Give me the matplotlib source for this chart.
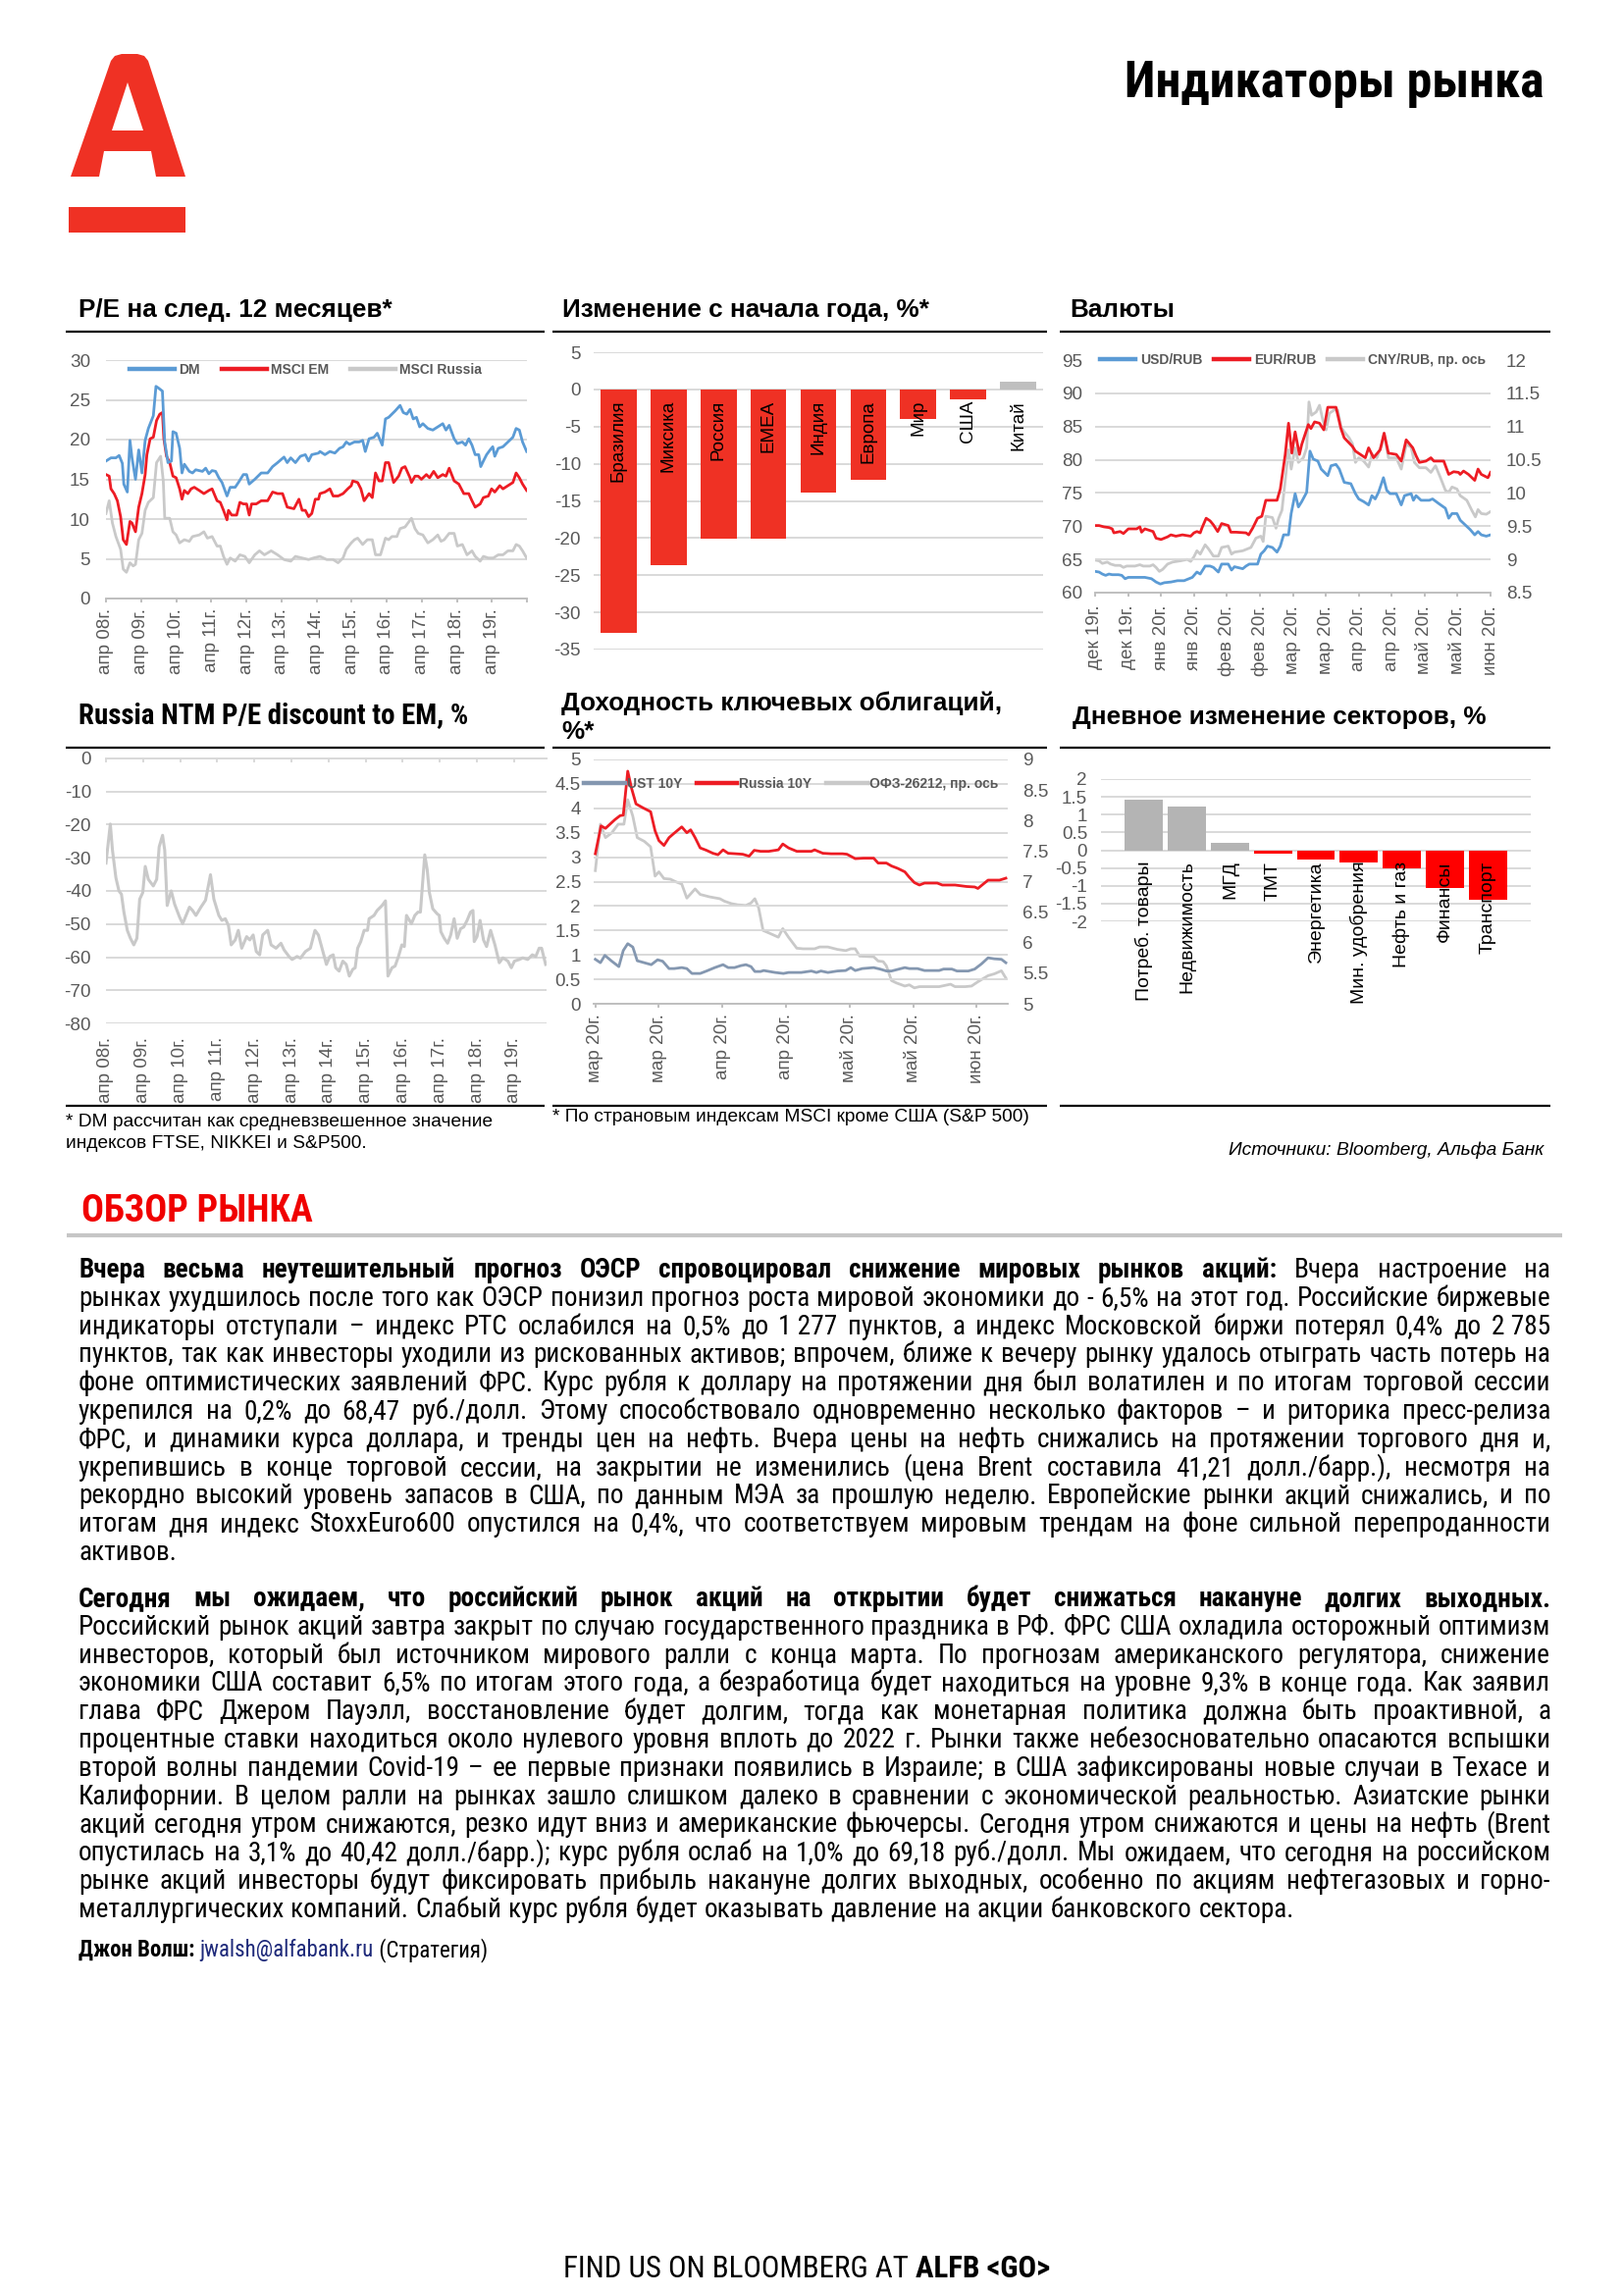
import os
import matplotlib
matplotlib.use('Agg')
import matplotlib.pyplot as plt
import matplotlib.font_manager as fm
from matplotlib.lines import Line2D
from matplotlib.path import Path
from matplotlib.patches import PathPatch, Rectangle
from matplotlib.ticker import FuncFormatter

plt.rcParams['font.family'] = ['Liberation Sans', 'DejaVu Sans']
plt.rcParams['axes.unicode_minus'] = False

# ---------------- DATA ----------------
pe_ticklabels = ['апр 08г.', 'апр 09г.', 'апр 10г.', 'апр 11г.', 'апр 12г.', 'апр 13г.',
                 'апр 14г.', 'апр 15г.', 'апр 16г.', 'апр 17г.', 'апр 18г.', 'апр 19г.']
# (months since Apr-2008, value)
pe_dm = [(0, 17.3), (1.7, 17.7), (3.4, 17.7), (4.5, 18.0), (5.6, 17.0), (6.1, 14.4), (7.3, 13.4),
         (8.2, 19.9), (8.9, 17.7), (10.1, 15.0), (11.2, 18.7), (12.3, 15.8), (13.4, 19.9), (14.5, 21.4),
         (16.2, 23.0), (17.1, 26.7), (17.9, 26.5), (19.3, 26.1), (20.1, 19.7), (21.2, 17.1), (22.4, 17.3),
         (22.9, 21.0), (24.0, 20.8), (25.2, 18.9), (26.0, 15.8), (26.8, 16.9), (28.5, 16.0), (29.6, 15.8),
         (30.7, 16.2), (33.0, 16.0), (34.1, 16.4), (35.2, 15.7), (36.3, 16.1), (37.5, 16.0), (38.6, 15.2),
         (39.7, 14.6), (41.4, 12.9), (42.5, 14.0), (44.2, 14.0), (45.3, 14.6), (47.0, 15.6), (48.1, 15.6),
         (49.0, 14.4), (50.9, 15.0), (53.1, 15.8), (55.3, 15.8), (57.0, 16.6), (58.7, 17.1), (60.9, 17.8),
         (62.0, 17.1), (63.2, 17.7), (64.8, 17.1), (66.5, 17.9), (68.2, 18.1), (69.3, 17.3), (70.4, 18.1),
         (72.7, 18.3), (73.2, 18.5), (74.9, 18.1), (76.6, 18.5), (78.3, 18.3), (79.9, 18.9), (81.1, 19.1),
         (82.2, 19.7), (83.3, 19.4), (85.0, 19.7), (86.6, 19.7), (87.8, 19.9), (88.7, 18.5), (90.0, 20.1),
         (91.7, 20.3), (92.8, 20.8), (94.5, 19.3), (95.6, 22.6), (96.7, 22.8), (98.9, 23.6), (100.6, 24.3),
         (101.7, 23.4), (102.9, 23.2), (104.0, 23.8), (105.1, 22.6), (106.2, 22.8), (107.3, 21.6),
         (108.4, 22.0), (110.1, 21.4), (111.8, 21.2), (113.5, 21.6), (115.2, 22.0), (116.3, 21.2),
         (117.4, 21.8), (119.1, 20.1), (120.2, 19.5), (121.9, 19.7), (123.0, 19.3), (124.1, 20.1),
         (125.2, 19.3), (126.3, 18.1), (127.5, 18.1), (128.2, 16.6), (129.1, 17.3), (130.2, 18.1),
         (131.4, 18.7), (132.3, 19.1), (133.0, 17.9), (134.2, 18.9), (135.8, 19.1), (137.5, 19.7),
         (139.2, 20.3), (140.3, 21.4), (141.4, 21.2), (142.5, 19.7), (143.9, 18.5)]
pe_em = [(0, 15.6), (1.1, 15.4), (1.7, 13.8), (2.8, 13.2), (3.9, 12.3), (5.0, 10.3), (5.9, 7.4), (7.0, 6.8),
         (8.2, 9.7), (8.9, 9.5), (10.1, 8.4), (11.2, 11.5), (12.3, 13.2), (13.4, 15.6), (14.0, 18.1),
         (15.1, 20.1), (16.2, 20.3), (17.3, 22.4), (18.4, 23.2), (19.3, 23.4), (19.8, 20.1), (20.7, 17.9),
         (21.8, 17.1), (22.9, 15.4), (24.0, 15.2), (25.2, 13.8), (26.0, 12.5), (26.8, 13.6), (28.0, 13.2),
         (29.1, 13.8), (30.2, 14.0), (31.9, 13.6), (33.5, 13.2), (35.2, 13.6), (36.3, 13.8), (38.0, 12.3),
         (39.1, 12.1), (40.2, 11.1), (41.4, 9.9), (41.9, 11.1), (43.0, 10.5), (44.7, 10.5), (45.8, 12.1),
         (47.0, 11.9), (48.1, 11.9), (49.0, 10.5), (49.8, 11.9), (51.4, 11.9), (53.1, 12.3), (55.3, 12.3),
         (57.0, 13.4), (58.7, 13.2), (60.4, 13.2), (62.0, 11.5), (64.3, 11.3), (66.0, 12.5), (67.1, 11.1),
         (68.2, 11.1), (69.3, 10.3), (70.4, 10.7), (71.6, 12.5), (72.7, 12.5), (73.2, 13.2), (74.9, 13.4),
         (76.6, 13.8), (77.7, 12.9), (79.4, 12.9), (81.1, 13.2), (82.7, 13.8), (83.9, 14.2), (84.4, 14.8),
         (86.1, 14.6), (87.2, 13.8), (88.3, 12.3), (90.0, 13.2), (91.1, 12.7), (92.2, 15.8), (93.4, 14.8),
         (94.5, 14.8), (95.6, 17.1), (96.7, 17.1), (98.4, 14.6), (100.1, 15.4), (101.2, 16.4), (102.3, 16.6),
         (104.0, 15.2), (104.5, 14.6), (105.7, 15.4), (106.8, 15.4), (107.9, 15.0), (109.6, 15.6),
         (110.7, 15.2), (112.1, 16.0), (113.5, 15.2), (115.2, 15.6), (116.3, 15.4), (117.4, 16.4),
         (119.1, 14.8), (120.7, 14.4), (122.4, 13.2), (124.1, 13.2), (125.2, 12.3), (126.3, 11.5),
         (128.0, 11.9), (129.1, 12.7), (130.8, 12.9), (131.9, 13.8), (133.0, 13.4), (134.7, 14.2),
         (135.8, 13.8), (137.5, 14.2), (139.2, 14.6), (140.3, 15.8), (141.4, 15.2), (142.5, 14.4),
         (143.9, 13.6)]
pe_ru = [(0, 10.7), (1.1, 12.3), (2.2, 9.5), (3.4, 7.8), (5.0, 6.2), (5.9, 3.7), (7.0, 3.3), (8.2, 4.5),
         (9.3, 4.1), (10.1, 4.3), (11.2, 7.4), (12.3, 8.2), (13.4, 11.1), (14.5, 12.1), (16.2, 12.7),
         (17.3, 17.1), (18.7, 17.9), (19.6, 14.8), (20.1, 10.1), (21.8, 10.1), (22.9, 8.4), (24.0, 8.0),
         (25.2, 7.0), (26.8, 7.4), (28.5, 7.2), (29.6, 7.8), (31.9, 8.0), (33.5, 8.4), (34.7, 7.6),
         (36.3, 7.8), (38.0, 6.6), (39.1, 6.6), (40.2, 5.3), (41.4, 4.3), (42.5, 5.1), (44.2, 4.7),
         (45.8, 5.5), (47.5, 5.3), (49.0, 4.5), (50.9, 5.5), (52.5, 6.0), (54.2, 5.5), (56.5, 6.0),
         (58.7, 5.5), (60.9, 4.9), (63.2, 4.7), (64.8, 5.3), (67.1, 5.1), (69.3, 4.9), (71.0, 5.1),
         (73.2, 5.3), (75.5, 4.9), (77.7, 4.9), (79.4, 4.5), (81.1, 5.1), (82.2, 6.2), (83.9, 7.0),
         (85.0, 7.4), (86.1, 7.6), (87.8, 6.8), (89.4, 7.4), (91.1, 7.4), (92.2, 5.5), (93.9, 5.5),
         (95.6, 7.6), (96.7, 7.4), (97.8, 7.8), (99.5, 7.8), (100.6, 8.8), (102.3, 9.0), (104.5, 10.1),
         (105.7, 8.8), (106.8, 8.2), (108.4, 8.0), (110.1, 7.0), (111.8, 7.4), (113.5, 8.0), (114.6, 7.2),
         (115.7, 7.4), (117.4, 8.2), (119.1, 8.2), (120.2, 6.6), (121.9, 6.8), (123.5, 5.5), (125.2, 6.0),
         (126.3, 5.3), (128.0, 4.7), (129.1, 5.3), (130.8, 5.1), (132.5, 5.1), (134.2, 5.5), (135.8, 5.5),
         (137.5, 6.0), (139.2, 6.0), (140.3, 6.8), (141.4, 6.6), (142.5, 6.0), (143.9, 5.1)]

ytd_names = ['Бразилия', 'Миксика', 'Россия', 'EMEA', 'Индия', 'Европа', 'Мир', 'США', 'Китай']
ytd_vals = [-32.7, -23.7, -20.1, -20.1, -13.9, -12.2, -4.0, -1.3, 1.0]

fx_ticklabels = ['дек 19г.', 'дек 19г.', 'янв 20г.', 'янв 20г.', 'фев 20г.', 'фев 20г.', 'мар 20г.',
                 'мар 20г.', 'апр 20г.', 'апр 20г.', 'май 20г.', 'май 20г.', 'июн 20г.']
# (trading-day index, value)
fx_usd = [(0, 63.2), (1.2, 63.1), (2.2, 62.8), (3.2, 62.6), (4.2, 62.8), (5.2, 62.7), (7.1, 62.7), (8.1, 62.6),
          (9.1, 62.1), (10.1, 62.3), (12.1, 62.3), (15.1, 62.3), (17.1, 62.1), (18.5, 61.6), (19.8, 61.3),
          (21.0, 61.5), (23.0, 61.6), (25.0, 61.8), (27.0, 61.8), (28.5, 62.1), (29.5, 62.3), (30.9, 63.1),
          (31.9, 62.8), (33.4, 64.0), (34.9, 64.0), (35.9, 63.8), (37.4, 63.1), (38.4, 64.3), (40.4, 64.3),
          (41.4, 63.4), (42.3, 63.9), (44.8, 63.6), (45.8, 64.0), (46.8, 64.3), (49.3, 64.3), (50.3, 65.8),
          (51.3, 66.3), (52.3, 67.0), (53.8, 66.8), (55.2, 66.1), (56.2, 67.0), (57.2, 68.7), (58.7, 68.7),
          (59.5, 71.9), (60.7, 74.9), (61.7, 72.9), (62.7, 73.7), (64.2, 75.1), (65.2, 81.3), (66.2, 80.1),
          (67.6, 79.8), (68.6, 78.6), (69.6, 78.1), (70.6, 77.6), (71.6, 79.1), (73.1, 79.3), (74.1, 78.6),
          (75.6, 76.6), (77.6, 76.4), (79.0, 74.9), (80.0, 74.1), (81.5, 73.7), (83.0, 73.2), (84.0, 74.6),
          (85.0, 74.1), (86.0, 75.1), (87.5, 77.3), (88.5, 75.4), (89.5, 74.9), (91.4, 74.9), (92.9, 73.2),
          (93.9, 74.6), (95.9, 74.9), (96.6, 73.9), (97.4, 74.6), (98.9, 73.9), (101.4, 73.9), (102.4, 74.1),
          (104.3, 73.4), (106.3, 72.7), (107.3, 71.2), (108.3, 71.9), (109.8, 71.9), (110.8, 70.9),
          (112.3, 70.2), (113.8, 69.5), (115.2, 68.7), (116.2, 69.2), (117.2, 68.7), (118.7, 68.5),
          (120.0, 68.7)]
fx_eur = [(0, 70.1), (1.2, 70.1), (2.7, 69.9), (4.2, 69.8), (5.2, 69.6), (5.7, 69.0), (7.6, 69.2), (8.6, 68.9),
          (10.1, 69.6), (12.6, 69.6), (13.6, 69.9), (14.1, 69.1), (15.1, 69.6), (17.6, 69.2), (18.5, 68.2),
          (20.0, 68.0), (22.0, 68.4), (23.0, 68.7), (24.5, 68.5), (26.5, 68.7), (29.0, 68.5), (30.0, 69.0),
          (30.9, 69.2), (31.9, 69.0), (32.4, 69.7), (33.7, 71.2), (34.9, 70.8), (35.9, 70.2), (37.2, 69.2),
          (38.4, 70.4), (40.4, 70.1), (41.2, 69.1), (42.8, 69.1), (45.8, 69.0), (46.6, 68.7), (47.8, 69.7),
          (49.3, 71.2), (50.6, 71.5), (51.8, 73.9), (55.2, 73.9), (56.2, 75.6), (57.7, 80.8), (58.7, 85.5),
          (59.7, 81.0), (60.7, 84.2), (62.0, 80.8), (62.7, 82.3), (63.7, 83.8), (64.7, 85.3), (65.5, 84.7),
          (66.6, 85.7), (68.1, 85.5), (69.4, 84.5), (70.6, 87.9), (73.1, 87.9), (74.6, 84.7), (75.6, 83.3),
          (78.1, 82.0), (79.0, 81.3), (80.5, 80.8), (82.0, 80.3), (83.0, 81.8), (84.5, 80.3), (86.5, 81.5),
          (87.7, 84.0), (89.0, 81.0), (91.4, 80.8), (92.9, 79.8), (94.4, 83.0), (96.4, 81.8), (97.4, 80.6),
          (98.4, 79.6), (100.4, 79.8), (101.9, 80.3), (102.8, 79.8), (105.8, 79.8), (107.3, 77.8),
          (108.8, 78.2), (110.3, 78.1), (110.8, 77.8), (111.8, 78.3), (113.3, 77.8), (115.2, 76.9),
          (116.2, 78.6), (117.2, 77.8), (119.2, 77.3), (120.0, 78.1)]
fx_cny = [(0, 8.99), (1.2, 8.98), (2.2, 8.94), (3.7, 8.96), (4.7, 8.93), (6.1, 8.91), (7.6, 8.91), (8.6, 8.88),
          (9.6, 8.90), (12.1, 8.90), (13.6, 8.92), (14.6, 8.90), (16.6, 8.90), (17.6, 8.92), (18.5, 8.88),
          (19.5, 8.82), (20.5, 8.85), (22.0, 8.93), (23.5, 8.96), (26.0, 8.98), (28.0, 9.00), (29.0, 8.97),
          (30.0, 9.04), (30.9, 9.13), (31.9, 9.08), (33.4, 9.22), (34.4, 9.16), (35.9, 9.05), (37.4, 9.05),
          (38.4, 9.18), (40.4, 9.20), (41.4, 9.08), (42.3, 9.11), (44.8, 9.13), (45.8, 9.15), (47.3, 9.18),
          (48.8, 9.32), (50.3, 9.35), (51.0, 9.27), (51.8, 9.65), (53.8, 9.63), (54.9, 9.47), (55.7, 9.62),
          (56.7, 9.74), (57.7, 10.19), (58.7, 10.65), (59.5, 10.36), (60.7, 10.68), (61.7, 10.46),
          (63.2, 10.53), (64.2, 10.68), (64.9, 11.37), (65.7, 11.17), (67.1, 11.22), (68.1, 11.32),
          (69.1, 11.10), (70.1, 10.95), (71.1, 11.20), (72.6, 11.25), (73.6, 11.25), (74.6, 11.00),
          (75.6, 10.92), (77.1, 10.83), (78.1, 10.74), (79.0, 10.46), (80.0, 10.53), (81.5, 10.48),
          (83.0, 10.39), (84.0, 10.58), (85.5, 10.53), (87.0, 10.73), (87.7, 10.90), (89.0, 10.53),
          (91.4, 10.53), (92.9, 10.36), (94.4, 10.73), (95.9, 10.69), (96.9, 10.46), (98.4, 10.38),
          (100.4, 10.38), (101.9, 10.31), (103.3, 10.41), (104.8, 10.23), (106.3, 10.04), (107.3, 10.01),
          (108.3, 10.09), (109.8, 10.06), (110.8, 9.96), (112.8, 9.89), (114.3, 9.74), (115.4, 9.64),
          (116.2, 9.75), (117.2, 9.69), (118.7, 9.68), (120.0, 9.72)]

disc = [(0, -31.6), (1.4, -19.8), (2.1, -27.7), (3.2, -36.0), (4.2, -40.0), (5.0, -41.0), (5.8, -46.4),
        (6.9, -51.9), (7.9, -54.3), (9.0, -56.3), (10.0, -54.3), (10.9, -42.5), (11.9, -40.5), (12.7, -32.6),
        (13.7, -36.5), (15.3, -38.5), (16.4, -36.5), (17.2, -26.7), (18.3, -23.2), (19.0, -27.7),
        (19.8, -44.4), (21.1, -40.0), (22.2, -44.0), (23.8, -47.9), (24.8, -49.9), (25.9, -47.4),
        (27.0, -44.9), (28.0, -45.9), (29.1, -47.4), (30.7, -44.9), (32.2, -42.8), (33.8, -35.1),
        (34.9, -42.5), (36.5, -47.4), (37.5, -48.9), (38.6, -48.4), (39.6, -50.4), (40.5, -56.3),
        (41.8, -54.8), (42.8, -51.9), (43.9, -57.3), (45.5, -53.8), (46.5, -54.8), (47.6, -53.3),
        (48.6, -58.3), (49.7, -59.3), (50.7, -53.3), (52.3, -51.9), (53.4, -56.3), (55.0, -57.3),
        (56.6, -55.8), (57.6, -57.8), (59.2, -59.8), (60.2, -60.7), (61.8, -59.8), (62.9, -60.3),
        (64.5, -58.3), (66.1, -57.3), (67.6, -51.9), (68.7, -53.3), (70.3, -58.8), (71.3, -62.2),
        (72.4, -59.8), (73.5, -59.3), (74.3, -63.2), (75.4, -64.2), (76.6, -61.2), (77.7, -62.2),
        (78.7, -65.7), (79.8, -63.7), (80.6, -63.2), (81.4, -57.3), (82.4, -55.3), (83.5, -51.9),
        (84.6, -51.9), (85.1, -48.4), (86.7, -47.4), (87.7, -45.9), (89.3, -44.4), (90.4, -43.0),
        (91.2, -65.7), (92.5, -63.2), (93.5, -62.7), (94.6, -59.8), (95.7, -56.3), (96.5, -56.8),
        (97.2, -47.4), (98.8, -49.9), (99.9, -47.4), (100.9, -46.4), (101.7, -46.4), (103.1, -29.1),
        (103.9, -33.6), (104.6, -40.5), (105.7, -45.4), (107.1, -46.9), (107.8, -47.4), (108.3, -52.3),
        (109.4, -54.3), (110.5, -55.8), (111.5, -53.3), (112.6, -48.4), (113.6, -54.3), (114.7, -51.4),
        (115.7, -50.9), (116.8, -48.9), (117.9, -46.4), (118.7, -45.9), (119.1, -55.3), (120.0, -53.8),
        (121.0, -48.9), (122.1, -54.8), (123.1, -56.8), (124.4, -51.9), (125.8, -56.3), (127.2, -61.7),
        (128.4, -60.2), (130.0, -61.2), (131.1, -63.2), (132.1, -61.2), (133.7, -60.7), (134.8, -60.2),
        (136.4, -60.7), (137.9, -59.3), (139.0, -59.8), (140.1, -57.3), (140.9, -57.3), (142.2, -62.2)]

bond_ticklabels = ['мар 20г.', 'мар 20г.', 'апр 20г.', 'апр 20г.', 'май 20г.', 'май 20г.', 'июн 20г.']
bond_ust = [(0, 0.91), (0.8, 0.84), (1.5, 0.99), (2.6, 0.87), (3.7, 0.76), (4.4, 1.09), (5.1, 1.23), (5.9, 1.16),
            (6.6, 0.88), (7.7, 0.84), (8.8, 0.80), (9.8, 0.90), (10.6, 0.87), (11.6, 0.72), (12.4, 0.72),
            (13.6, 0.74), (14.4, 0.72), (15.2, 0.62), (16.5, 0.62), (17.5, 0.67), (18.8, 0.74), (20.1, 0.80),
            (20.9, 0.74), (21.9, 0.74), (22.9, 0.78), (23.7, 0.80), (24.5, 0.76), (25.1, 0.66), (26.0, 0.66),
            (26.5, 0.68), (28.3, 0.64), (29.6, 0.62), (30.4, 0.64), (32.4, 0.64), (34.0, 0.67), (34.8, 0.64),
            (35.5, 0.67), (36.6, 0.64), (38.1, 0.67), (39.4, 0.68), (40.2, 0.74), (40.9, 0.68), (42.0, 0.72),
            (43.8, 0.74), (44.8, 0.71), (45.8, 0.67), (46.6, 0.67), (48.7, 0.74), (49.4, 0.72), (50.7, 0.72),
            (51.8, 0.68), (54.1, 0.68), (54.8, 0.71), (56.1, 0.71), (56.9, 0.67), (58.7, 0.67), (59.7, 0.71),
            (60.8, 0.82), (61.8, 0.94), (62.8, 0.92), (63.9, 0.91), (64.6, 0.84)]
bond_ru = [(0, 3.07), (0.9, 3.64), (1.6, 3.59), (3.1, 3.77), (3.9, 3.85), (4.4, 3.86), (5.1, 4.76), (5.7, 4.41),
           (6.4, 4.09), (7.5, 4.01), (8.7, 3.93), (9.4, 3.54), (10.0, 3.34), (10.8, 3.24), (11.6, 3.40),
           (12.4, 3.49), (13.6, 3.62), (14.4, 3.50), (15.0, 3.56), (15.7, 3.40), (16.5, 3.19), (17.5, 3.14),
           (18.5, 3.08), (19.3, 3.05), (20.1, 3.15), (20.9, 3.08), (22.1, 3.07), (23.2, 3.06), (24.2, 3.02),
           (25.0, 3.14), (26.0, 3.12), (27.3, 3.12), (28.8, 3.15), (29.5, 3.27), (30.4, 3.19), (31.7, 3.12),
           (33.0, 3.12), (34.0, 3.12), (34.5, 3.15), (35.8, 3.08), (37.1, 3.07), (38.9, 3.07), (39.6, 3.06),
           (40.9, 2.97), (42.2, 2.98), (43.8, 2.98), (44.5, 2.88), (45.8, 2.88), (46.6, 2.82), (47.6, 2.77),
           (48.7, 2.70), (49.4, 2.59), (50.2, 2.48), (51.0, 2.43), (51.8, 2.47), (53.8, 2.47), (54.6, 2.43),
           (56.6, 2.43), (58.4, 2.40), (59.7, 2.39), (60.2, 2.36), (61.8, 2.53), (63.6, 2.53), (64.6, 2.57)]
bond_ofz = [(0, 7.18), (0.8, 7.94), (1.6, 7.72), (2.6, 7.80), (3.6, 7.94), (4.5, 7.94), (5.1, 8.34), (5.9, 8.07),
            (6.6, 7.72), (7.7, 7.66), (8.7, 7.57), (9.4, 7.09), (10.0, 7.16), (10.8, 7.05), (11.8, 7.04),
            (12.6, 7.00), (13.6, 6.96), (14.4, 6.73), (15.7, 6.88), (16.5, 6.79), (18.0, 6.75), (19.6, 6.72),
            (20.3, 6.68), (21.4, 6.64), (22.4, 6.62), (23.7, 6.61), (24.5, 6.65), (25.1, 6.72), (25.7, 6.57),
            (26.4, 6.20), (27.3, 6.16), (28.8, 6.09), (29.5, 6.23), (30.4, 6.09), (31.7, 5.91), (32.7, 5.90),
            (34.5, 5.90), (35.3, 5.93), (36.6, 5.93), (38.1, 5.89), (39.4, 5.87), (40.2, 5.90), (40.9, 5.90),
            (41.6, 5.78), (43.8, 5.77), (44.5, 5.70), (45.3, 5.69), (45.8, 5.62), (46.6, 5.38), (47.4, 5.34),
            (48.7, 5.29), (49.4, 5.31), (50.2, 5.26), (51.0, 5.28), (52.0, 5.28), (54.1, 5.28), (55.9, 5.32),
            (56.6, 5.28), (58.2, 5.28), (59.2, 5.29), (60.2, 5.36), (61.8, 5.46), (62.8, 5.49), (63.9, 5.54),
            (64.6, 5.42)]

sector_names = ['Потреб. товары', 'Недвижимость', 'МГД', 'ТМТ', 'Энергетика', 'Мин. удобрения',
                'Нефть и газ', 'Финансы', 'Транспорт']
sector_vals = [1.43, 1.24, 0.20, -0.11, -0.25, -0.34, -0.52, -1.07, -1.39]

para1_lines = [
    "Вчера весьма неутешительный прогноз ОЭСР спровоцировал снижение мировых рынков акций: Вчера настроение на",
    "рынках ухудшилось после того как ОЭСР понизил прогноз роста мировой экономики до - 6,5% на этот год. Российские биржевые",
    "индикаторы отступали – индекс РТС ослабился на 0,5% до 1\u00a0277 пунктов, а индекс Московской биржи потерял 0,4% до 2\u00a0785",
    "пунктов, так как инвесторы уходили из рискованных активов; впрочем, ближе к вечеру рынку удалось отыграть часть потерь на",
    "фоне оптимистических заявлений ФРС. Курс рубля к доллару на протяжении дня был волатилен и по итогам торговой сессии",
    "укрепился на 0,2% до 68,47 руб./долл. Этому способствовало одновременно несколько факторов – и риторика пресс-релиза",
    "ФРС, и динамики курса доллара, и тренды цен на нефть. Вчера цены на нефть снижались на протяжении торгового дня и,",
    "укрепившись в конце торговой сессии, на закрытии не изменились (цена Brent составила 41,21 долл./барр.), несмотря на",
    "рекордно высокий уровень запасов в США, по данным МЭА за прошлую неделю. Европейские рынки акций снижались, и по",
    "итогам дня индекс StoxxEuro600 опустился на 0,4%, что соответствуем мировым трендам на фоне сильной перепроданности",
    "активов.",
]
para1_bold_words = 10
para2_lines = [
    "Сегодня мы ожидаем, что российский рынок акций на открытии будет снижаться накануне долгих выходных.",
    "Российский рынок акций завтра закрыт по случаю государственного праздника в РФ. ФРС США охладила осторожный оптимизм",
    "инвесторов, который был источником мирового ралли с конца марта. По прогнозам американского регулятора, снижение",
    "экономики США составит 6,5% по итогам этого года, а безработица будет находиться на уровне 9,3% в конце года. Как заявил",
    "глава ФРС Джером Пауэлл, восстановление будет долгим, тогда как монетарная политика должна быть проактивной, а",
    "процентные ставки находиться около нулевого уровня вплоть до 2022 г. Рынки также небезосновательно опасаются вспышки",
    "второй волны пандемии Covid-19 – ее первые признаки появились в Израиле; в США зафиксированы новые случаи в Техасе и",
    "Калифорнии. В целом ралли на рынках зашло слишком далеко в сравнении с экономической реальностью. Азиатские рынки",
    "акций сегодня утром снижаются, резко идут вниз и американские фьючерсы. Сегодня утром снижаются и цены на нефть (Brent",
    "опустилась на 3,1% до 40,42 долл./барр.); курс рубля ослаб на 1,0% до 69,18 руб./долл. Мы ожидаем, что сегодня на российском",
    "рынке акций инвесторы будут фиксировать прибыль накануне долгих выходных, особенно по акциям нефтегазовых и горно-",
    "металлургических компаний. Слабый курс рубля будет оказывать давление на акции банковского сектора.",
]
para2_bold_lines = 1

# ---------------- FONTS ----------------


def _wnum(f):
    w = f.weight
    if isinstance(w, str):
        w = fm.weight_dict.get(w, 400)
    return w


def find_condensed():
    prefs = ['liberationsansnarrow', 'arialnarrow', 'robotocondensed', 'notosans-condensed',
             'dejavusanscondensed', 'opensanscondensed', 'opensans_condensed', 'opensans-condensed']
    for key in prefs:
        cands = []
        for f in fm.fontManager.ttflist:
            b = os.path.basename(f.fname).lower().replace(' ', '')
            if key in b and 'italic' not in b and 'oblique' not in b and f.style == 'normal':
                cands.append(f)
        if cands:
            reg = min(cands, key=lambda f: abs(_wnum(f) - 400))
            bold = min(cands, key=lambda f: abs(_wnum(f) - 700))
            return reg.fname, bold.fname
    return None


COND = find_condensed()


def FN(size, bold=False):
    if COND:
        return fm.FontProperties(fname=COND[1] if bold else COND[0], size=size)
    return fm.FontProperties(family=['Liberation Sans', 'DejaVu Sans'], weight='bold' if bold else 'normal',
                             size=size)


# ---------------- STYLE ----------------
W, H, DPI = 1655, 2340, 200
C_BLUE, C_RED, C_GRAY, C_UST = '#5b9bd5', '#ed1c24', '#c9c9c9', '#8497b0'
C_TICK, C_GRID, C_AXIS = '#595959', '#d9d9d9', '#bfbfbf'
C_BAR_RED, C_BAR_GRAY = '#ef3124', '#bfbfbf'
C_SEC_RED, C_SEC_GRAY = '#ff0000', '#b4b4b4'
FS_TICK = 6.8

fig = plt.figure(figsize=(W / DPI, H / DPI), dpi=DPI, facecolor='white')
bg = fig.add_axes([0, 0, 1, 1])
bg.set_xlim(0, W)
bg.set_ylim(H, 0)
bg.axis('off')
renderer = fig.canvas.get_renderer()


def measure(s, fp):
    t = bg.text(0, 0, s, fontproperties=fp)
    w = t.get_window_extent(renderer).width
    t.remove()
    return w


def fit_size(s, size, bold, target, cap=1.2):
    w = measure(s, FN(size, bold))
    return size * min(cap, target / w)


def place(x0, x1, ytop, ybot):
    return fig.add_axes([x0 / W, 1 - ybot / H, (x1 - x0) / W, (ybot - ytop) / H])


def base_style(ax, ypad=5):
    ax.set_facecolor('none')
    for s in ax.spines.values():
        s.set_visible(False)
    ax.yaxis.grid(True, color=C_GRID, lw=0.7)
    ax.set_axisbelow(True)
    ax.tick_params(axis='y', length=0, labelsize=FS_TICK, labelcolor=C_TICK, pad=ypad)
    ax.tick_params(axis='x', labelsize=FS_TICK, labelcolor=C_TICK, color=C_AXIS, width=0.7)
    ax.yaxis.set_major_formatter(FuncFormatter(lambda v, p: '%g' % v))


def hline(x0, x1, y, lw=0.8, color='black'):
    bg.plot([x0, x1], [y, y], color=color, lw=lw, solid_capstyle='butt')


def legend_at(ax, items, x, y, hl, tp, cs, fs=5.0):
    handles = [Line2D([], [], color=c, lw=1.6) for c, _ in items]
    labels = [l for _, l in items]
    leg = ax.legend(handles, labels, loc='center left', bbox_to_anchor=(x, y), bbox_transform=bg.transData,
                    ncol=len(items), frameon=False, borderpad=0, borderaxespad=0, handlelength=hl,
                    handletextpad=tp, columnspacing=cs, prop={'size': fs, 'weight': 'bold'})
    for t in leg.get_texts():
        t.set_color(C_TICK)
    return leg


def unzip(pairs):
    return [p[0] for p in pairs], [p[1] for p in pairs]


# ---------------- HEADER ----------------
logo = Path([(72, 180), (113, 62), (117, 57), (124, 55), (140, 55), (147, 57), (151, 62), (189, 180),
             (159, 180), (154, 154), (106, 154), (101, 180), (72, 180),
             (130, 84), (114, 133), (146, 133), (130, 84)],
            [Path.MOVETO] + [Path.LINETO] * 11 + [Path.CLOSEPOLY] +
            [Path.MOVETO, Path.LINETO, Path.LINETO, Path.CLOSEPOLY])
bg.add_patch(PathPatch(logo, facecolor='#ef3124', edgecolor='none'))
bg.add_patch(Rectangle((70, 211), 119, 26, facecolor='#ef3124', edgecolor='none'))
title_txt = 'Индикаторы рынка'
bg.text(1574, 99, title_txt, ha='right', va='baseline', fontproperties=FN(fit_size(title_txt, 18, True, 428), True))

# ---------------- CHART TITLES / RULES ----------------
TT = dict(fontsize=9.4, fontweight='bold', va='baseline', ha='left')
bg.text(80, 323, 'P/E на след. 12 месяцев*', **TT)
bg.text(573, 323, 'Изменение с начала года, %*', **TT)
bg.text(1090, 323, 'Валюты', **TT)
t4 = 'Russia NTM P/E discount to EM, %'
bg.text(80, 737, t4, va='baseline', fontproperties=FN(fit_size(t4, 9.5, True, 398), True))
bg.text(572, 724, 'Доходность ключевых облигаций,', **TT)
bg.text(572, 753, '%*', **TT)
bg.text(1093, 738, 'Дневное изменение секторов, %', **TT)
for (a, b) in [(67, 555), (563, 1067), (1080, 1580)]:
    hline(a, b, 338)
    hline(a, b, 762)
    hline(a, b, 1127)

FT = dict(fontsize=6.9, va='baseline', ha='left')
bg.text(67, 1148, '* DM рассчитан как средневзвешенное значение', **FT)
bg.text(67, 1170, 'индексов FTSE, NIKKEI и S&P500.', **FT)
bg.text(563, 1143, '* По страновым индексам MSCI кроме США (S&P 500)', **FT)
bg.text(1573, 1177, 'Источники: Bloomberg, Альфа Банк', fontsize=6.9, va='baseline', ha='right', style='italic')

# ---------------- PANEL 1: P/E ----------------
ax1 = place(108, 537, 367, 610)
base_style(ax1, ypad=5.8)
for pairs, c in [(pe_ru, C_GRAY), (pe_em, C_RED), (pe_dm, C_BLUE)]:
    xs, ys = unzip(pairs)
    ax1.plot(xs, ys, color=c, lw=1.0)
ax1.set_xlim(0, 144)
ax1.set_ylim(0, 30)
ax1.set_yticks(range(0, 31, 5))
ax1.set_xticks(range(0, 145, 12))
ax1.set_xticklabels(pe_ticklabels + [''], rotation=90)
ax1.spines['bottom'].set_visible(True)
ax1.spines['bottom'].set_color(C_AXIS)
ax1.spines['bottom'].set_linewidth(0.7)
ax1.tick_params(axis='x', length=1.4, pad=2.2)
legend_at(ax1, [(C_BLUE, 'DM'), (C_RED, 'MSCI EM'), (C_GRAY, 'MSCI Russia')], 132, 377, 3.3, 0.3, 1.6)

# ---------------- PANEL 2: YTD ----------------
ax2 = place(605, 1063, 359, 662)
base_style(ax2, ypad=4.7)
xpos = list(range(len(ytd_vals)))
ax2.bar(xpos, ytd_vals, width=0.72, color=[C_BAR_RED if v < 0 else C_BAR_GRAY for v in ytd_vals], zorder=2)
ax2.set_xlim(-0.5, len(ytd_vals) - 0.5)
ax2.set_ylim(-35, 5)
ax2.set_yticks(range(-35, 6, 5))
ax2.set_xticks([])
for i, name in enumerate(ytd_names):
    ax2.annotate(name, (i, 0), xytext=(0, -4), textcoords='offset points', rotation=90, ha='center',
                 va='top', fontsize=6.8, color='black', zorder=3)

# ---------------- PANEL 3: FX ----------------
ax3 = place(1116, 1519, 367, 604)
base_style(ax3, ypad=4.7)
ax3r = ax3.twinx()
for s in ax3r.spines.values():
    s.set_visible(False)
xs, ys = unzip(fx_cny)
ax3r.plot(xs, ys, color=C_GRAY, lw=1.0)
xs, ys = unzip(fx_usd)
ax3.plot(xs, ys, color=C_BLUE, lw=1.0)
xs, ys = unzip(fx_eur)
ax3.plot(xs, ys, color=C_RED, lw=1.0)
ax3.set_zorder(ax3r.get_zorder() + 1)
ax3.set_xlim(0, 120)
ax3.set_ylim(60, 95)
ax3.set_yticks(range(60, 96, 5))
ax3r.set_ylim(8.5, 12)
ax3r.set_yticks([8.5, 9, 9.5, 10, 10.5, 11, 11.5, 12])
ax3r.yaxis.set_major_formatter(FuncFormatter(lambda v, p: '%g' % v))
ax3r.tick_params(axis='y', length=0, labelsize=FS_TICK, labelcolor=C_TICK, pad=5.8)
ax3.set_xticks(range(0, 121, 10))
ax3.set_xticklabels(fx_ticklabels, rotation=90)
ax3.spines['bottom'].set_visible(True)
ax3.spines['bottom'].set_color(C_AXIS)
ax3.spines['bottom'].set_linewidth(0.7)
ax3.tick_params(axis='x', length=1.4, pad=3.2)
ax3.yaxis.get_gridlines()[-1].set_visible(False)
legend_at(ax3, [(C_BLUE, 'USD/RUB'), (C_RED, 'EUR/RUB'), (C_GRAY, 'CNY/RUB, пр. ось')], 1121, 367, 2.6,
          0.35, 0.85)

# ---------------- PANEL 4: Russia discount ----------------
ax4 = place(108, 557, 773, 1043)
base_style(ax4, ypad=5.4)
xs, ys = unzip(disc)
ax4.plot(xs, ys, color=C_GRAY, lw=1.1)
ax4.set_xlim(0, 142.5)
ax4.set_ylim(-80, 0)
ax4.set_yticks(range(-80, 1, 10))
ax4.set_xticks(range(0, 133, 12))
ax4.set_xticklabels(pe_ticklabels, rotation=90)
ax4.spines['top'].set_visible(True)
ax4.spines['top'].set_color(C_GRID)
ax4.spines['top'].set_linewidth(0.7)
ax4.tick_params(axis='x', bottom=False, top=True, labelbottom=True, labeltop=False, direction='in',
                length=1.6, pad=5, color=C_GRID)

# ---------------- PANEL 5: Bonds ----------------
ax5 = place(605, 1027, 774, 1023)
base_style(ax5, ypad=4.7)
ax5r = ax5.twinx()
for s in ax5r.spines.values():
    s.set_visible(False)
xs, ys = unzip(bond_ofz)
ax5r.plot(xs, ys, color=C_GRAY, lw=1.0)
xs, ys = unzip(bond_ust)
ax5.plot(xs, ys, color=C_UST, lw=1.0)
xs, ys = unzip(bond_ru)
ax5.plot(xs, ys, color=C_RED, lw=1.0)
ax5.set_zorder(ax5r.get_zorder() + 1)
ax5.set_xlim(-0.26, 64.9)
ax5.set_ylim(0, 5)
ax5.set_yticks([0, 0.5, 1, 1.5, 2, 2.5, 3, 3.5, 4, 4.5, 5])
ax5r.set_ylim(5, 9)
ax5r.set_yticks([5, 5.5, 6, 6.5, 7, 7.5, 8, 8.5, 9])
ax5r.yaxis.set_major_formatter(FuncFormatter(lambda v, p: '%g' % v))
ax5r.tick_params(axis='y', length=0, labelsize=FS_TICK, labelcolor=C_TICK, pad=5.4)
ax5.set_xticks(range(0, 61, 10))
ax5.set_xticklabels(bond_ticklabels, rotation=90)
ax5.spines['bottom'].set_visible(True)
ax5.spines['bottom'].set_color(C_AXIS)
ax5.spines['bottom'].set_linewidth(0.7)
ax5.tick_params(axis='x', length=1.4, pad=2.2)
legend_at(ax5, [(C_UST, 'UST 10Y'), (C_RED, 'Russia 10Y'), (C_GRAY, 'ОФЗ-26212, пр. ось')], 595, 799, 3.0,
          0.15, 1.05)

# ---------------- PANEL 6: Sectors ----------------
ax6 = place(1122, 1560, 794, 939)
base_style(ax6, ypad=5)
spos = list(range(len(sector_vals)))
ax6.bar(spos, sector_vals, width=0.89, color=[C_SEC_RED if v < 0 else C_SEC_GRAY for v in sector_vals],
        zorder=2)
ax6.set_xlim(-1.0, 9.0)
ax6.set_ylim(-2, 2)
ax6.set_yticks([-2, -1.5, -1, -0.5, 0, 0.5, 1, 1.5, 2])
ax6.set_xticks([])
for i, name in enumerate(sector_names):
    ax6.annotate(name, (i, 0), xytext=(0, -4), textcoords='offset points', rotation=90, ha='center',
                 va='top', fontsize=7, color='black', zorder=3)

# ---------------- TEXT BODY ----------------
X0, X1 = 80, 1580
BODY_FS = 9.0
LINE_H = 28.8


def line_words(line, nbold):
    ws = line.split(' ')
    return [(w, i < nbold) for i, w in enumerate(ws)]


all_lines = []
for i, ln in enumerate(para1_lines):
    all_lines.append((line_words(ln, para1_bold_words if i == 0 else 0), i < len(para1_lines) - 1))
for i, ln in enumerate(para2_lines):
    all_lines.append((line_words(ln, 10 ** 6 if i < para2_bold_lines else 0), i < len(para2_lines) - 1))

# size the face so that the tightest justified line is set with normal word spaces (as in the reference)
fpr0, fpb0 = FN(BODY_FS), FN(BODY_FS, True)
ratios = []
for words, just in all_lines:
    if not just:
        continue
    nat = sum(measure(w, fpb0 if b else fpr0) for w, b in words) + 0.24 * BODY_FS * DPI / 72 * (len(words) - 1)
    ratios.append((X1 - X0) / nat)
scale = max(0.7, min(1.2, min(ratios)))
fs = BODY_FS * scale
FPR, FPB = FN(fs), FN(fs, True)
space = 0.25 * fs * DPI / 72


def draw_line(words, y, justify):
    objs, widths = [], []
    for w, b in words:
        t = bg.text(0, y, w, fontproperties=FPB if b else FPR, va='baseline', ha='left', color='black')
        objs.append(t)
        widths.append(t.get_window_extent(renderer).width)
    gap = (X1 - X0 - sum(widths)) / (len(objs) - 1) if (justify and len(objs) > 1) else space
    x = X0
    for t, wd in zip(objs, widths):
        t.set_x(x)
        x += wd + gap


y = 1302
for k, (words, just) in enumerate(all_lines):
    if k == len(para1_lines):
        y = 1637
    draw_line(words, y, just)
    y += LINE_H

sec = 'ОБЗОР РЫНКА'
bg.text(83, 1245, sec, va='baseline', color='#f00000', fontproperties=FN(fit_size(sec, 12, True, 236), True))
hline(68, 1592, 1259, lw=1.5, color='#c6c6c6')


def put_parts(parts, x, y, size, target, center=False):
    w0 = sum(measure(s, FN(size, b)) for s, b, c in parts)
    size = size * min(1.2, target / w0)
    objs, widths = [], []
    for s, bold, color in parts:
        t = bg.text(0, y, s, fontproperties=FN(size, bold), va='baseline', ha='left', color=color)
        objs.append(t)
        widths.append(t.get_window_extent(renderer).width)
    if center:
        x = x - sum(widths) / 2
    for t, wd in zip(objs, widths):
        t.set_x(x)
        x += wd


put_parts([('Джон Волш: ', True, 'black'), ('jwalsh@alfabank.ru', False, '#1f2a7a'),
           (' (Стратегия)', False, 'black')], 80, 1994, 8, 420)
put_parts([('FIND US ON BLOOMBERG AT ', False, 'black'), ('ALFB <GO>', True, 'black')], 822, 2321, 10, 498,
          center=True)

fig.savefig('out.png', dpi=DPI, facecolor='white')
